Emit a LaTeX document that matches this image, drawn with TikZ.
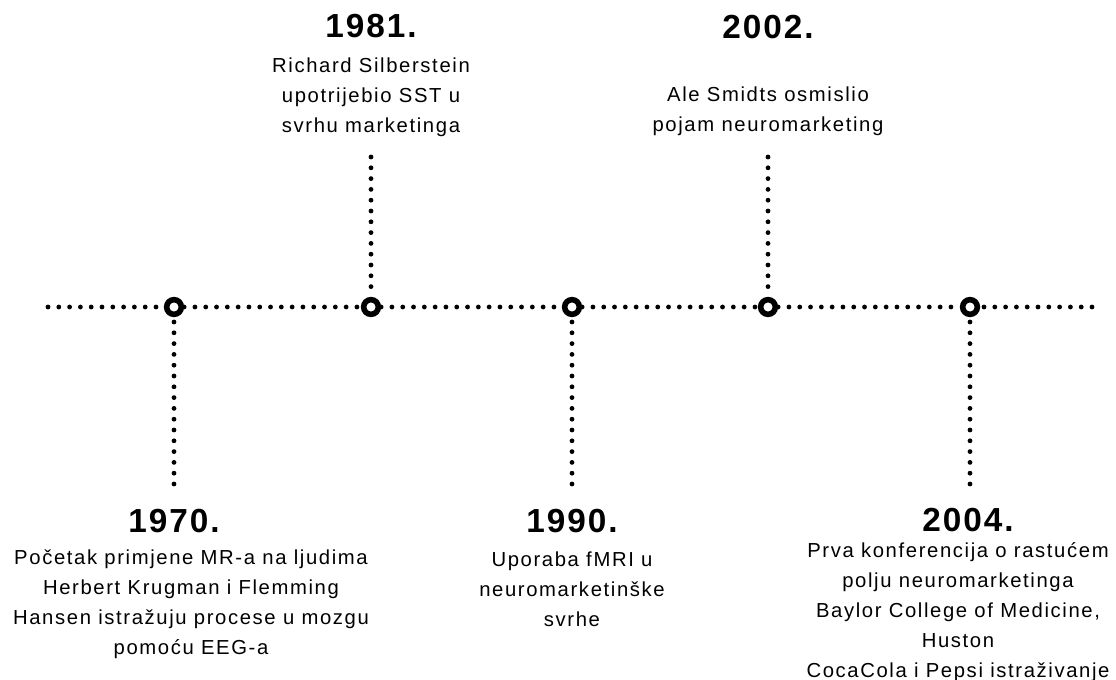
\documentclass[tikz,border=0pt]{standalone}
\usepackage{fontspec}
\setmainfont{Liberation Sans}[LetterSpace=8]
\newfontfamily\yearfont{Liberation Sans}[LetterSpace=6]
\usetikzlibrary{positioning}

\tikzset{
 dots/.style={line width=3.6pt, dash pattern=on 0pt off 8.1pt, line cap=round},
 event/.style={circle, draw, line width=4.2pt, fill=white, inner sep=0pt, minimum size=11pt},
 year/.style={font=\yearfont\bfseries\fontsize{25}{30}\selectfont, inner sep=0pt},
 note/.style={font=\fontsize{15.2}{22.5}\selectfont, align=center, inner sep=0pt, anchor=north},
}

\begin{document}
\begin{tikzpicture}[x=0.75pt, y=-0.75pt]
 \useasboundingbox (0,0) rectangle (1116,680);
 % time line
 \coordinate (L) at (48,307);
 \coordinate (R) at (1092,307);
 \node[event] (c1970) at (174,307) {};
 \node[event] (c1981) at (371,307) {};
 \node[event] (c1990) at (572,307) {};
 \node[event] (c2002) at (768,307) {};
 \node[event] (c2004) at (970,307) {};
 \coordinate (e1970) at (174,484);
 \coordinate (e1981) at (371,157);
 \coordinate (e1990) at (572,484);
 \coordinate (e2002) at (768,157);
 \coordinate (e2004) at (970,484);
 \path[dots]
  (L) edge (c1970)
  (c1970) edge (c1981)
  (c1981) edge (c1990)
  (c1990) edge (c2002)
  (c2002) edge (c2004)
  (R) edge (c2004)
  (e1970) edge (c1970)
  (e1981) edge (c1981)
  (e1990) edge (c1990)
  (e2002) edge (c2002)
  (e2004) edge (c2004)
 ;
 % above
 \node[year] (y1981) at (371,26) {1981.};
 \node[note] (t1981) at (371,58) {Richard Silberstein\\upotrijebio SST u\\svrhu marketinga};
 \node[year] (y2002) at (768,27) {2002.};
 \node[note] (t2002) at (768,87) {Ale Smidts osmislio\\pojam neuromarketing};
 % below
 \node[year] (y1970) at (174,521) {1970.};
 \node[note] (t1970) at (191,549) {Početak primjene MR-a na ljudima\\Herbert Krugman i Flemming\\Hansen istražuju procese u mozgu\\pomoću EEG-a};
 \node[year] (y1990) at (572,521) {1990.};
 \node[note] (t1990) at (572,552) {Uporaba fMRI u\\neuromarketinške\\svrhe};
 \node[year] (y2004) at (968,520) {2004.};
 \node[note] (t2004) at (958,542) {Prva konferencija o rastućem\\polju neuromarketinga\\Baylor College of Medicine,\\Huston\\CocaCola i Pepsi istraživanje};
\end{tikzpicture}
\end{document}
